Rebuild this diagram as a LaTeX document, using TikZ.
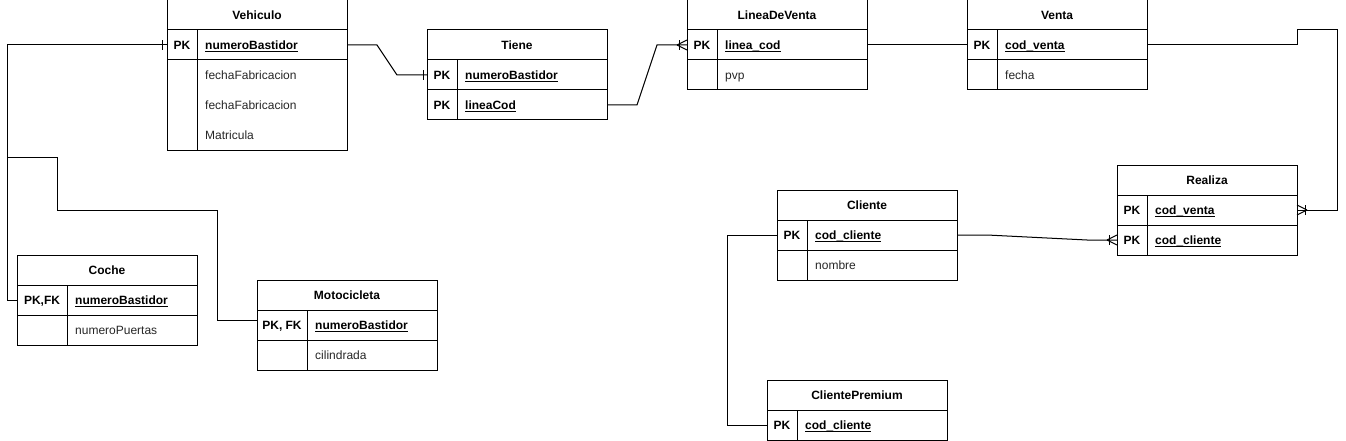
\documentclass[tikz,border=0pt]{standalone}
\usepackage{fontspec}
\setmainfont{Liberation Sans}
\newcommand\keyname[1]{\setbox0\hbox{#1}\rlap{\rule[-2.5pt]{\wd0}{0.9pt}}\box0}
\begin{document}
\begin{tikzpicture}[x=1pt,y=-1pt,
  font=\fontsize{12}{14}\selectfont,
  rowbox/.style={minimum width=180pt, minimum height=30pt, inner sep=0pt, outer sep=0pt, anchor=north west},
  hdrtxt/.style={inner sep=0pt, anchor=base, yshift=-4.5pt, font=\fontsize{12}{14}\selectfont\bfseries},
  keytxt/.style={inner sep=0pt, anchor=base, yshift=-4.5pt, font=\fontsize{12}{14}\selectfont\bfseries},
  attrtxt/.style={inner sep=0pt, anchor=base west, yshift=-4.5pt, text=black!85},
  pkattr/.style={inner sep=0pt, anchor=base west, yshift=-4.5pt, font=\fontsize{12}{14}\selectfont\bfseries},
  tb/.style={draw=black, line width=1pt},
  conn/.style={draw=black, line width=1pt},
  ermark/.style={draw=black, line width=1pt}
]
\useasboundingbox (0,0) rectangle (1346,441);

% ---------- Vehiculo ----------
\node[rowbox] (veh-h) at (167,0) {};
\node[hdrtxt] (veh-t) at (veh-h.center) {Vehiculo};
\node[rowbox] (veh-r1) at (167,30) {};
\node[rowbox] (veh-r2) at (167,60) {};
\node[rowbox] (veh-r3) at (167,90) {};
\node[rowbox] (veh-r4) at (167,120) {};
\node[keytxt] (veh-k1) at ([xshift=15pt]veh-r1.west) {PK};
\node[pkattr] (veh-a1) at ([xshift=38pt]veh-r1.west) {\keyname{numeroBastidor}};
\node[attrtxt] (veh-a2) at ([xshift=38pt]veh-r2.west) {fechaFabricacion};
\node[attrtxt] (veh-a3) at ([xshift=38pt]veh-r3.west) {fechaFabricacion};
\node[attrtxt] (veh-a4) at ([xshift=38pt]veh-r4.west) {Matricula};
\draw[tb] (veh-h.north west) rectangle (veh-r4.south east);
\draw[tb] (veh-h.south west) -- (veh-h.south east);
\draw[tb] (veh-r1.south west) -- (veh-r1.south east);
\draw[tb] ([xshift=30pt]veh-r1.north west) -- ([xshift=30pt]veh-r4.south west);

% ---------- Tiene ----------
\node[rowbox] (tie-h) at (427,30) {};
\node[hdrtxt] (tie-t) at (tie-h.center) {Tiene};
\node[rowbox] (tie-r1) at (427,60) {};
\node[rowbox] (tie-r2) at (427,90) {};
\node[keytxt] (tie-k1) at ([xshift=15pt]tie-r1.west) {PK};
\node[keytxt] (tie-k2) at ([xshift=15pt]tie-r2.west) {PK};
\node[pkattr] (tie-a1) at ([xshift=38pt]tie-r1.west) {\keyname{numeroBastidor}};
\node[pkattr] (tie-a2) at ([xshift=38pt]tie-r2.west) {\keyname{lineaCod}};
\draw[tb] (tie-h.north west) rectangle (tie-r2.south east);
\draw[tb] (tie-h.south west) -- (tie-h.south east);
\draw[tb] (tie-r1.south west) -- (tie-r1.south east);
\draw[tb] ([xshift=30pt]tie-r1.north west) -- ([xshift=30pt]tie-r2.south west);

% ---------- LineaDeVenta ----------
\node[rowbox] (lin-h) at (687,0) {};
\node[hdrtxt] (lin-t) at (lin-h.center) {LineaDeVenta};
\node[rowbox] (lin-r1) at (687,30) {};
\node[rowbox] (lin-r2) at (687,60) {};
\node[keytxt] (lin-k1) at ([xshift=15pt]lin-r1.west) {PK};
\node[pkattr] (lin-a1) at ([xshift=38pt]lin-r1.west) {\keyname{linea\_cod}};
\node[attrtxt] (lin-a2) at ([xshift=38pt]lin-r2.west) {pvp};
\draw[tb] (lin-h.north west) rectangle (lin-r2.south east);
\draw[tb] (lin-h.south west) -- (lin-h.south east);
\draw[tb] (lin-r1.south west) -- (lin-r1.south east);
\draw[tb] ([xshift=30pt]lin-r1.north west) -- ([xshift=30pt]lin-r2.south west);

% ---------- Venta ----------
\node[rowbox] (ven-h) at (967,0) {};
\node[hdrtxt] (ven-t) at (ven-h.center) {Venta};
\node[rowbox] (ven-r1) at (967,30) {};
\node[rowbox] (ven-r2) at (967,60) {};
\node[keytxt] (ven-k1) at ([xshift=15pt]ven-r1.west) {PK};
\node[pkattr] (ven-a1) at ([xshift=38pt]ven-r1.west) {\keyname{cod\_venta}};
\node[attrtxt] (ven-a2) at ([xshift=38pt]ven-r2.west) {fecha};
\draw[tb] (ven-h.north west) rectangle (ven-r2.south east);
\draw[tb] (ven-h.south west) -- (ven-h.south east);
\draw[tb] (ven-r1.south west) -- (ven-r1.south east);
\draw[tb] ([xshift=30pt]ven-r1.north west) -- ([xshift=30pt]ven-r2.south west);

% ---------- Realiza ----------
\node[rowbox] (rea-h) at (1117,165) {};
\node[hdrtxt] (rea-t) at (rea-h.center) {Realiza};
\node[rowbox] (rea-r1) at (1117,195) {};
\node[rowbox] (rea-r2) at (1117,225) {};
\node[keytxt] (rea-k1) at ([xshift=15pt]rea-r1.west) {PK};
\node[keytxt] (rea-k2) at ([xshift=15pt]rea-r2.west) {PK};
\node[pkattr] (rea-a1) at ([xshift=38pt]rea-r1.west) {\keyname{cod\_venta}};
\node[pkattr] (rea-a2) at ([xshift=38pt]rea-r2.west) {\keyname{cod\_cliente}};
\draw[tb] (rea-h.north west) rectangle (rea-r2.south east);
\draw[tb] (rea-h.south west) -- (rea-h.south east);
\draw[tb] (rea-r1.south west) -- (rea-r1.south east);
\draw[tb] ([xshift=30pt]rea-r1.north west) -- ([xshift=30pt]rea-r2.south west);

% ---------- Cliente ----------
\node[rowbox] (cli-h) at (777,190) {};
\node[hdrtxt] (cli-t) at (cli-h.center) {Cliente};
\node[rowbox] (cli-r1) at (777,220) {};
\node[rowbox] (cli-r2) at (777,250) {};
\node[keytxt] (cli-k1) at ([xshift=15pt]cli-r1.west) {PK};
\node[pkattr] (cli-a1) at ([xshift=38pt]cli-r1.west) {\keyname{cod\_cliente}};
\node[attrtxt] (cli-a2) at ([xshift=38pt]cli-r2.west) {nombre};
\draw[tb] (cli-h.north west) rectangle (cli-r2.south east);
\draw[tb] (cli-h.south west) -- (cli-h.south east);
\draw[tb] (cli-r1.south west) -- (cli-r1.south east);
\draw[tb] ([xshift=30pt]cli-r1.north west) -- ([xshift=30pt]cli-r2.south west);

% ---------- ClientePremium ----------
\node[rowbox] (cp-h) at (767,380) {};
\node[hdrtxt] (cp-t) at (cp-h.center) {ClientePremium};
\node[rowbox] (cp-r1) at (767,410) {};
\node[keytxt] (cp-k1) at ([xshift=15pt]cp-r1.west) {PK};
\node[pkattr] (cp-a1) at ([xshift=38pt]cp-r1.west) {\keyname{cod\_cliente}};
\draw[tb] (cp-h.north west) rectangle (cp-r1.south east);
\draw[tb] (cp-h.south west) -- (cp-h.south east);
\draw[tb] ([xshift=30pt]cp-r1.north west) -- ([xshift=30pt]cp-r1.south west);

% ---------- Coche ----------
\node[rowbox] (coc-h) at (17,255) {};
\node[hdrtxt] (coc-t) at (coc-h.center) {Coche};
\node[rowbox] (coc-r1) at (17,285) {};
\node[rowbox] (coc-r2) at (17,315) {};
\node[keytxt] (coc-k1) at ([xshift=25pt]coc-r1.west) {PK,FK};
\node[pkattr] (coc-a1) at ([xshift=58pt]coc-r1.west) {\keyname{numeroBastidor}};
\node[attrtxt] (coc-a2) at ([xshift=58pt]coc-r2.west) {numeroPuertas};
\draw[tb] (coc-h.north west) rectangle (coc-r2.south east);
\draw[tb] (coc-h.south west) -- (coc-h.south east);
\draw[tb] (coc-r1.south west) -- (coc-r1.south east);
\draw[tb] ([xshift=50pt]coc-r1.north west) -- ([xshift=50pt]coc-r2.south west);

% ---------- Motocicleta ----------
\node[rowbox] (mot-h) at (257,280) {};
\node[hdrtxt] (mot-t) at (mot-h.center) {Motocicleta};
\node[rowbox] (mot-r1) at (257,310) {};
\node[rowbox] (mot-r2) at (257,340) {};
\node[keytxt] (mot-k1) at ([xshift=25pt]mot-r1.west) {PK, FK};
\node[pkattr] (mot-a1) at ([xshift=58pt]mot-r1.west) {\keyname{numeroBastidor}};
\node[attrtxt] (mot-a2) at ([xshift=58pt]mot-r2.west) {cilindrada};
\draw[tb] (mot-h.north west) rectangle (mot-r2.south east);
\draw[tb] (mot-h.south west) -- (mot-h.south east);
\draw[tb] (mot-r1.south west) -- (mot-r1.south east);
\draw[tb] ([xshift=50pt]mot-r1.north west) -- ([xshift=50pt]mot-r2.south west);

% ---------- Connectors ----------
% Vehiculo -> Coche
\draw[conn] (veh-r1.west) -- (7,45) -- (7,300) -- (coc-r1.west);
\draw[ermark] ([xshift=-5pt,yshift=-5pt]veh-r1.west) -- ([xshift=-5pt,yshift=5pt]veh-r1.west);
% Vehiculo -> Motocicleta
\draw[conn] (7,157) -- (57,157) -- (57,210) -- (217,210) -- (217,320) -- ([yshift=5pt]mot-r1.west);
% Vehiculo -> Tiene
\draw[conn] (veh-r1.east) -- (377,45) -- (397,75) -- (tie-r1.west);
\draw[ermark] ([xshift=-4pt,yshift=-5pt]tie-r1.west) -- ([xshift=-4pt,yshift=5pt]tie-r1.west);
% Tiene -> LineaDeVenta
\draw[conn] (tie-r2.east) -- (637,105) -- (657,45) -- (lin-r1.west);
\draw[ermark] ([xshift=-10pt]lin-r1.west) -- ([yshift=5pt]lin-r1.west);
\draw[ermark] ([xshift=-10pt]lin-r1.west) -- ([yshift=-5pt]lin-r1.west);
\draw[ermark] ([xshift=-8pt,yshift=-5pt]lin-r1.west) -- ([xshift=-8pt,yshift=5pt]lin-r1.west);
% LineaDeVenta -> Venta
\draw[conn] (lin-r1.east) -- (ven-r1.west);
% Venta -> Realiza
\draw[conn] (ven-r1.east) -- (1297,45) -- (1297,30) -- (1337,30) -- (1337,210) -- (rea-r1.east);
\draw[ermark] ([xshift=10pt]rea-r1.east) -- ([yshift=5pt]rea-r1.east);
\draw[ermark] ([xshift=10pt]rea-r1.east) -- ([yshift=-5pt]rea-r1.east);
\draw[ermark] ([xshift=8pt,yshift=-5pt]rea-r1.east) -- ([xshift=8pt,yshift=5pt]rea-r1.east);
% Cliente -> Realiza
\draw[conn] (cli-r1.east) -- (987,235) -- (1087,240) -- (rea-r2.west);
\draw[ermark] ([xshift=-10pt]rea-r2.west) -- ([yshift=5pt]rea-r2.west);
\draw[ermark] ([xshift=-10pt]rea-r2.west) -- ([yshift=-5pt]rea-r2.west);
\draw[ermark] ([xshift=-8pt,yshift=-5pt]rea-r2.west) -- ([xshift=-8pt,yshift=5pt]rea-r2.west);
% Cliente -> ClientePremium
\draw[conn] (cli-r1.west) -- (727,235) -- (727,425) -- (cp-r1.west);
\end{tikzpicture}
\end{document}
